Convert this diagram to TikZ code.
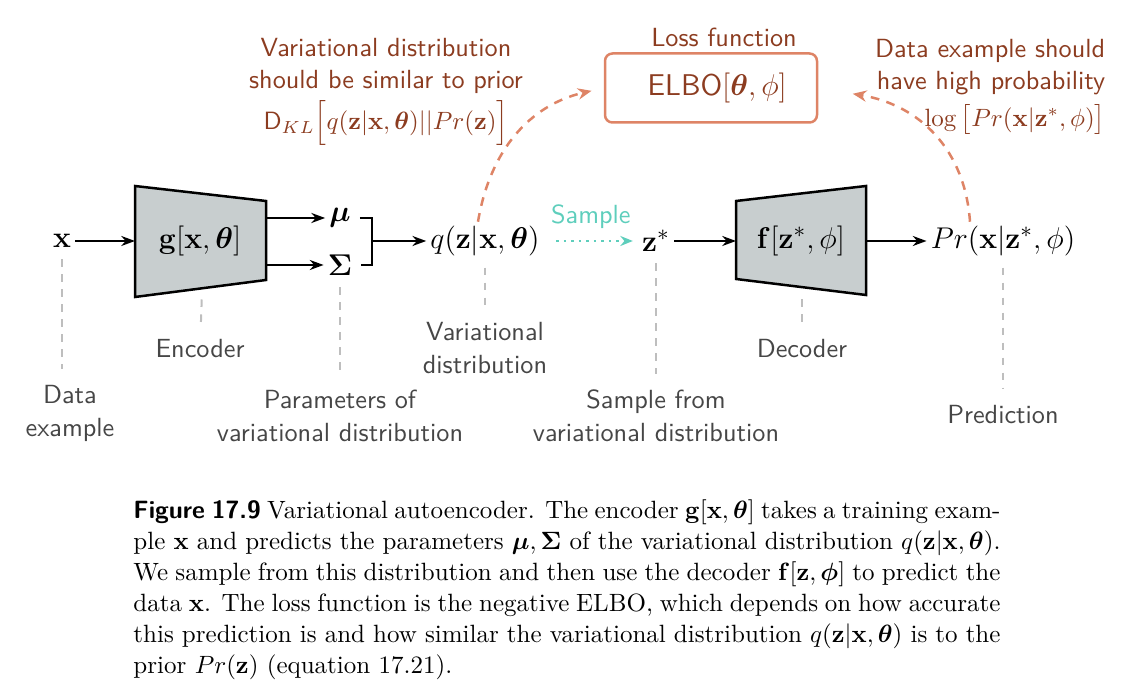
\documentclass[tikz,border=0pt]{standalone}
\usepackage{amsmath}
\usepackage{tikz}
\usetikzlibrary{arrows.meta, calc}
\usepackage{xcolor}
\definecolor{lossline}{RGB}{222,132,102}
\definecolor{lossbrown}{RGB}{140,60,32}
\definecolor{sampleteal}{RGB}{94,206,188}
\definecolor{labelgray}{RGB}{70,70,70}
\definecolor{guidegray}{RGB}{190,190,190}
\definecolor{netgray}{RGB}{200,206,207}

\begin{document}
\begin{tikzpicture}[x=0.4pt, y=-0.4pt,
    mathnode/.style={font=\fontsize{13}{15}\selectfont, inner sep=1.5pt},
    lbl/.style={font=\sffamily\fontsize{10.5}{13.2}\selectfont, text=labelgray, align=center},
    note/.style={font=\sffamily\fontsize{10.5}{12.8}\selectfont, text=lossbrown},
    arr/.style={-{Stealth[length=5.5pt,width=4pt]}, line width=0.9pt},
    trap/.style={draw, line width=1pt, fill=netgray},
    guide/.style={guidegray, dashed, line width=0.8pt, shorten <=3pt, shorten >=3pt},
    curve/.style={lossline, dash pattern=on 3.5pt off 3pt, line width=1pt, -{Stealth[length=5.5pt,width=4.5pt]}}]
        \useasboundingbox (0,0) rectangle (1136,698);
        \draw[trap] (135,186) -- (266,201) -- (266,280) -- (135,297) -- cycle;
        \draw[trap] (736,201) -- (866,186) -- (866,295) -- (736,279) -- cycle;
        \coordinate (encin) at (135,241);
        \coordinate (encmu) at (266,218);
        \coordinate (encsig) at (266,265);
        \coordinate (encb) at (202,292);
        \coordinate (brk) at (372,241);
        \coordinate (decin) at (736,241);
        \coordinate (decout) at (866,241);
        \coordinate (decb) at (802,292);

        \node[mathnode] (x) at (62,241) {$\mathbf{x}$};
        \node[mathnode] (enc) at (200,241) {$\mathbf{g}[\mathbf{x},\boldsymbol{\theta}]$};
        \node[mathnode] (mu) at (340,218) {$\boldsymbol{\mu}$};
        \node[mathnode] (sig) at (340,265) {$\boldsymbol{\Sigma}$};
        \node[mathnode] (q) at (485,241) {$q(\mathbf{z}|\mathbf{x},\boldsymbol{\theta})$};
        \node[mathnode] (z) at (656,241) {$\mathbf{z}^{*}$};
        \node[mathnode] (dec) at (801,241) {$\mathbf{f}[\mathbf{z}^{*},\phi]$};
        \node[mathnode] (pr) at (1003,241) {$Pr(\mathbf{x}|\mathbf{z}^{*},\phi)$};

        \draw[arr] (x) -- (encin);
        \draw[arr] (encmu) -- (mu);
        \draw[arr] (encsig) -- (sig);
        \draw[line width=0.9pt] ($(mu.east)+(5,0)$) -| (brk) |- ($(sig.east)+(5,0)$);
        \draw[arr] (brk) -- (q);
        \draw[sampleteal, dotted, line width=1pt, -{Stealth[length=5pt,width=4pt]}, shorten <=5pt, shorten >=2pt] (q) -- node[above=1pt, font=\sffamily\fontsize{10.5}{12}\selectfont, text=sampleteal] (samp) {Sample} (z);
        \draw[arr] (z) -- (decin);
        \draw[arr] (decout) -- (pr);

        \node[draw=lossline, line width=1pt, rounded corners=3pt, minimum width=84.8pt, minimum height=27.6pt, font=\fontsize{12}{14}\selectfont, text=lossbrown] (loss) at (711,88) {\hspace{5pt}\textsf{ELBO}$[\boldsymbol{\theta},\phi]$};
        \node[note] (losst) at (724,37) {Loss function};
        \node[note, align=center, anchor=north] (prior) at (386,29) {Variational distribution\\should be similar to prior\\[2pt]{\fontsize{10}{12}\selectfont$\mathsf{D}_{KL}\Big[q(\mathbf{z}|\mathbf{x},\boldsymbol{\theta})||Pr(\mathbf{z})\Big]$}};
        \node[note, align=right, anchor=north east] (lik) at (1114,30) {Data example should\\have high probability\\[2pt]{\fontsize{10}{12}\selectfont$\log\big[Pr(\mathbf{x}|\mathbf{z}^{*},\phi)\big]$}};
        \draw[curve, shorten >=5pt] ($(q.north)+(-7,0)$) .. controls (490,150) and (530,105) .. (loss.west);
        \draw[curve, shorten >=14pt] ($(pr.north)+(-33,0)$) .. controls (965,150) and (920,105) .. (loss.east);

        \node[lbl] (xl) at (70,413) {Data\\example};
        \node[lbl] (encl) at (200,349) {Encoder};
        \node[lbl] (sigl) at (340,416) {Parameters of\\variational distribution};
        \node[lbl] (ql) at (485,348) {Variational\\distribution};
        \node[lbl] (zl) at (656,416) {Sample from\\variational distribution};
        \node[lbl] (decl) at (802,349) {Decoder};
        \node[lbl] (prl) at (1003,415) {Prediction};
        \draw[guide] (x) -- (x |- xl.north);
        \draw[guide] (encb) -- (encl);
        \draw[guide] (sig) -- (sigl);
        \draw[guide] (q) -- (ql);
        \draw[guide] (z) -- (zl);
        \draw[guide] (decb) -- (decl);
        \draw[guide] (pr) -- (prl);

        \node[anchor=north west, text width=346.8pt, align=justify, inner sep=0pt, font=\fontsize{10}{12.4}\selectfont] (cap) at (133,499) {\textsf{\textbf{Figure 17.9}} Variational autoencoder. The encoder $\mathbf{g}[\mathbf{x},\boldsymbol{\theta}]$ takes a training exam-\linebreak ple $\mathbf{x}$ and predicts the parameters $\boldsymbol{\mu},\boldsymbol{\Sigma}$ of the variational distribution $q(\mathbf{z}|\mathbf{x},\boldsymbol{\theta})$.\linebreak We sample from this distribution and then use the decoder $\mathbf{f}[\mathbf{z},\boldsymbol{\phi}]$ to predict the\linebreak data $\mathbf{x}$. The loss function is the negative ELBO, which depends on how accurate\linebreak this prediction is and how similar the variational distribution $q(\mathbf{z}|\mathbf{x},\boldsymbol{\theta})$ is to the\linebreak prior $Pr(\mathbf{z})$ (equation 17.21).};
    \end{tikzpicture}
\end{document}
